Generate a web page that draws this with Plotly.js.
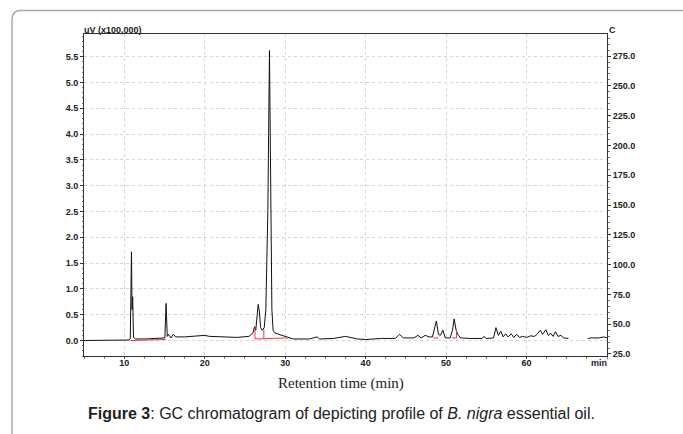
<!DOCTYPE html>
<html>
<head>
<meta charset="utf-8">
<script src="https://cdn.plot.ly/plotly-3.0.1.min.js"></script>
<style>
html,body{margin:0;padding:0;background:#fff;}
#chart{width:683px;height:434px;}
</style>
</head>
<body>
<div id="chart"></div>
<script>
// Retention time (min) and detector signal (uV x100,000)
const TIME = [5, 8, 10.6, 10.75, 10.85, 10.9, 10.97, 11.05, 11.15, 11.4, 12.5, 14, 15.05, 15.2, 15.35, 15.5, 15.8, 16.1, 16.4, 17.5, 19, 20, 20.6, 21.2, 22.5, 24, 25.5, 26.0, 26.2, 26.35, 26.65, 26.8, 26.95, 27.15, 27.4, 27.6, 27.85, 28.05, 28.2, 28.35, 28.5, 28.7, 29.2, 30, 30.5, 31, 33, 34, 34.3, 36, 37.5, 38, 39, 40, 42, 43.7, 44.2, 44.7, 46, 46.5, 46.9, 47.4, 47.9, 48.3, 48.8, 49.05, 49.3, 49.6, 49.9, 50.5, 50.8, 51.0, 51.25, 51.45, 51.8, 53, 54.5, 54.7, 55, 55.9, 56.2, 56.5, 56.8, 57.1, 57.4, 57.7, 58.1, 58.4, 58.8, 59.1, 59.5, 60, 60.5, 61, 61.3, 61.7, 62.0, 62.4, 62.7, 63.0, 63.3, 63.6, 63.9, 64.3, 64.6, 65.2, null, 67.6, 68, 69, 69.6, 70];
const SIGNAL = [0.0, 0.01, 0.01, 0.03, 0.9, 1.72, 0.6, 0.85, 0.06, 0.03, 0.03, 0.04, 0.05, 0.72, 0.08, 0.12, 0.05, 0.12, 0.07, 0.07, 0.08, 0.1, 0.08, 0.08, 0.07, 0.06, 0.08, 0.15, 0.27, 0.2, 0.7, 0.55, 0.25, 0.2, 0.25, 0.6, 2.5, 5.62, 3.0, 0.6, 0.2, 0.15, 0.12, 0.08, 0.04, 0.03, 0.03, 0.07, 0.03, 0.04, 0.08, 0.06, 0.03, 0.02, 0.04, 0.04, 0.12, 0.05, 0.05, 0.1, 0.05, 0.1, 0.07, 0.07, 0.38, 0.12, 0.1, 0.2, 0.05, 0.05, 0.2, 0.42, 0.2, 0.12, 0.05, 0.04, 0.04, 0.08, 0.04, 0.05, 0.25, 0.1, 0.18, 0.07, 0.13, 0.07, 0.13, 0.06, 0.12, 0.06, 0.08, 0.06, 0.09, 0.08, 0.12, 0.2, 0.12, 0.21, 0.1, 0.14, 0.08, 0.17, 0.08, 0.1, 0.05, 0.04, null, 0.04, 0.05, 0.05, 0.07, 0.05];

// Integration baselines (red)
const BASE_T = [10.75, 15.15, null, 26.25, 26.25, 30.4, null, 27.35, 27.35, null, 48.4, 49.0, null, 50.7, 51.3, 51.3];
const BASE_S = [0.0, 0.02, null, 0.27, 0.03, 0.05, null, 0.035, 0.22, null, 0.05, 0.05, null, 0.05, 0.05, 0.2];

const XTICKS = [10, 20, 30, 40, 50, 60];
const YTICKS = [0, 0.5, 1, 1.5, 2, 2.5, 3, 3.5, 4, 4.5, 5, 5.5];
const Y2TICKS = [25, 50, 75, 100, 125, 150, 175, 200, 225, 250, 275];

const tickFont = {family: 'Arial, "Liberation Sans", sans-serif', size: 9, color: '#222', weight: 'bold'};

const traces = [
  {x: TIME, y: SIGNAL, type: 'scatter', mode: 'lines', line: {color: '#111', width: 1}, connectgaps: false, hoverinfo: 'skip', showlegend: false},
  {x: BASE_T, y: BASE_S, type: 'scatter', mode: 'lines', line: {color: '#e8383d', width: 1}, connectgaps: false, hoverinfo: 'skip', showlegend: false},
  {x: [], y: [], type: 'scatter', mode: 'lines', yaxis: 'y2', showlegend: false, hoverinfo: 'skip'}
];

const X0 = (12 - 84) / 523, Y1 = (356 - 10.5) / 322, RX = 9 / 523, RY = 9 / 322;

const layout = {
  width: 683, height: 434,
  margin: {l: 84, r: 76, t: 34, b: 78},
  paper_bgcolor: '#fff', plot_bgcolor: '#fff',
  showlegend: false,
  xaxis: {
    range: [5, 70], tickvals: XTICKS, ticktext: XTICKS.map(String),
    showgrid: true, gridcolor: '#d6d6d6', griddash: 'dot', gridwidth: 1,
    zeroline: false, showline: true, linecolor: '#333', linewidth: 1, mirror: true,
    ticks: 'outside', ticklen: 2, tickcolor: '#555', tickfont: tickFont, ticklabelstandoff: -4,
    minor: {dtick: 2.5, tick0: 0, ticklen: 2, tickcolor: '#777', showgrid: false}
  },
  yaxis: {
    range: [-0.3, 5.94], tickvals: YTICKS, tickformat: '.1f',
    showgrid: true, gridcolor: '#d6d6d6', griddash: 'dot', gridwidth: 1,
    zeroline: false, showline: true, linecolor: '#333', linewidth: 1, mirror: true,
    ticks: 'outside', ticklen: 3, tickcolor: '#333', tickfont: tickFont,
    minor: {dtick: 0.1, ticklen: 1.5, tickcolor: '#777', showgrid: false}
  },
  yaxis2: {
    overlaying: 'y', side: 'right', range: [23.3, 293.5], tickvals: Y2TICKS, tickformat: '.1f',
    showgrid: false, zeroline: false, showline: true, linecolor: '#333', linewidth: 1,
    ticks: 'outside', ticklen: 3, tickcolor: '#333', tickfont: tickFont,
    minor: {dtick: 5, ticklen: 1.5, tickcolor: '#777', showgrid: false}
  },
  shapes: [{
    type: 'path', xref: 'paper', yref: 'paper',
    path: 'M ' + X0 + ',-0.4 L ' + X0 + ',' + (Y1 - RY) + ' Q ' + X0 + ',' + Y1 + ' ' + (X0 + RX) + ',' + Y1 + ' L 1.3,' + Y1,
    line: {color: '#a8a8a8', width: 1.5}
  }],
  annotations: [
    {text: 'uV (x100,000)', xref: 'paper', yref: 'paper', x: (82 - 84) / 523, y: (356 - 30.5) / 322, xanchor: 'left', yanchor: 'middle', showarrow: false, font: tickFont},
    {text: 'C', xref: 'paper', yref: 'paper', x: (612 - 84) / 523, y: (356 - 30.5) / 322, xanchor: 'center', yanchor: 'middle', showarrow: false, font: tickFont},
    {text: 'min', xref: 'paper', yref: 'paper', x: (599 - 84) / 523, y: (356 - 363) / 322, xanchor: 'center', yanchor: 'middle', showarrow: false, font: tickFont},
    {text: 'Retention time (min)', xref: 'paper', yref: 'paper', x: (341 - 84) / 523, y: (356 - 383) / 322, xanchor: 'center', yanchor: 'middle', showarrow: false, font: {family: '"Times New Roman", "Liberation Serif", serif', size: 15, color: '#222'}},
    {text: '<b>Figure 3</b>: GC chromatogram of depicting profile of <i>B. nigra</i> essential oil.', xref: 'paper', yref: 'paper', x: (341 - 84) / 523, y: (356 - 413) / 322, xanchor: 'center', yanchor: 'middle', showarrow: false, font: {family: 'Arial, "Liberation Sans", sans-serif', size: 16, color: '#222'}}
  ]
};

Plotly.newPlot('chart', traces, layout, {displayModeBar: false, staticPlot: true});
</script>
</body>
</html>
